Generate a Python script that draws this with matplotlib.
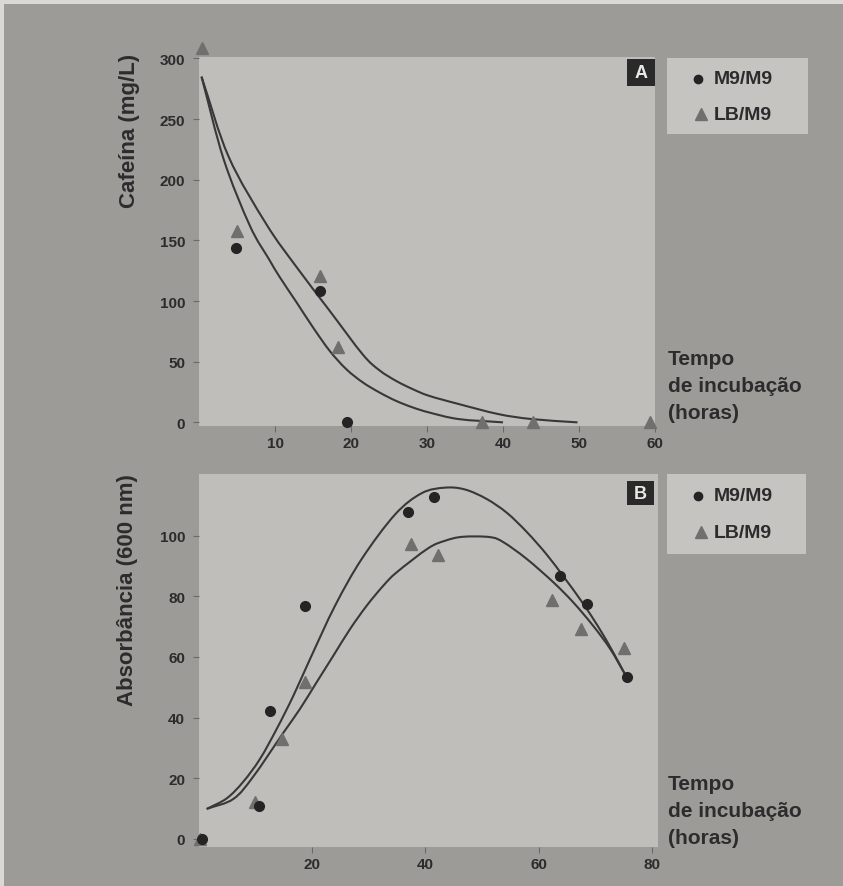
import numpy as np
import matplotlib
matplotlib.use("Agg")
import matplotlib.pyplot as plt
from matplotlib.path import Path
from matplotlib.patches import PathPatch, Rectangle
from matplotlib.lines import Line2D

W, H = 843, 887

# ---------------- Panel A: caffeine in the medium (mg/L) ----------------
caf_m9_t = [4.9, 15.9, 19.5]
caf_m9_v = [144, 108.5, 0]
caf_lb_t = [0.4, 5.0, 15.9, 18.3, 37.3, 43.9, 59.4]
caf_lb_v = [309, 158, 121, 62, 0, 0, 0]

# fitted decay curves (knots along each curve)
caf_fit_m9_t = [0.33, 3.24, 6.7, 9.2, 10.65, 12.84, 15.0, 17.19, 19.37, 21.54,
                23.73, 25.9, 28.08, 30.26, 34.18, 40.0]
caf_fit_m9_v = [285, 217, 162, 134.6, 119.5, 98.9, 78.3, 59.0, 43.9, 33.0,
                24.7, 17.8, 12.4, 8.2, 2.7, 0]
caf_fit_lb_t = [0.33, 3.9, 8.9, 12.84, 17.19, 21.54, 23.73, 25.9, 28.08, 30.26,
                34.18, 39.4, 43.8, 49.8]
caf_fit_lb_v = [285, 219, 163, 128, 92, 56, 43, 34.3, 27.5, 21.9,
                15.1, 6.8, 2.7, 0]

caf_xticks = [10, 20, 30, 40, 50, 60]
caf_yticks = [0, 50, 100, 150, 200, 250, 300]

# ---------------- Panel B: absorbance at 600 nm ----------------
abs_m9_t = [0.7, 10.7, 12.6, 18.8, 37.0, 41.6, 63.8, 68.5, 75.6]
abs_m9_v = [0, 10.8, 42.3, 76.9, 107.9, 112.6, 86.8, 77.5, 53.3]
abs_lb_t = [0.3, 10.0, 14.7, 18.8, 37.5, 42.3, 62.4, 67.5, 75.1]
abs_lb_v = [0, 12.1, 33, 51.8, 97.2, 93.6, 78.9, 69.2, 62.9]

abs_fit_m9_t = [1.46, 4.99, 7.92, 10.86, 13.81, 16.74, 19.68, 24.1, 28.8,
                34.7, 39.4, 43.5, 47.0, 50.8, 54.4, 57.9, 61.4, 64.5, 67.5,
                70.5, 73.0, 75.2]
abs_fit_m9_v = [9.9, 13.4, 18.9, 26.4, 36.3, 47.2, 59.3, 76.9, 92.3,
                107.0, 114.0, 115.8, 115.2, 112.1, 107.5, 101.2, 93.8, 86.2, 78.5,
                70.0, 62.0, 54.4]
abs_fit_lb_t = [1.46, 6.16, 9.68, 14.97, 17.92, 20.86, 23.79, 26.74, 29.68, 32.61,
                34.97, 40.5, 43.5, 46.6, 51.4, 53.8, 57.9, 62.6, 66.1, 69.6,
                72.6, 75.2]
abs_fit_lb_v = [9.9, 13.2, 20.6, 35.0, 42.9, 51.7, 60.4, 69.2, 76.9, 83.5,
                87.9, 95.8, 98.3, 99.6, 99.5, 97.8, 92.3, 84.6, 78.0, 70.3,
                62.7, 54.4]

abs_xticks = [20, 40, 60, 80]
abs_yticks = [0, 20, 40, 60, 80, 100]

series_labels = ["M9/M9", "LB/M9"]
axis_x_label = ["Tempo", "de incubação", "(horas)"]

# ---------------- styling ----------------
OUTER = "#9c9b98"
PANEL = "#bfbebb"
LEGBOX = "#c5c4c1"
EDGE = "#dad9d5"
TXT = "#2c2c2c"
LINE = "#383838"
DOT = "#242424"
TRI = "#6f6f6d"

plt.rcParams["font.family"] = ["Liberation Sans", "DejaVu Sans"]
plt.rcParams["font.weight"] = "bold"


def fx(px):
    return px / W


def fy(py):
    return 1 - py / H


def smooth_path(xs, ys):
    """Catmull-Rom curve through the knots, as cubic Bezier segments."""
    p = np.column_stack([xs, ys]).astype(float)
    ext = np.vstack([p[0] - (p[1] - p[0]), p, p[-1] + (p[-1] - p[-2])])
    verts = [p[0]]
    codes = [Path.MOVETO]
    for i in range(1, len(ext) - 2):
        p0, p1, p2, p3 = ext[i - 1], ext[i], ext[i + 1], ext[i + 2]
        verts += [p1 + (p2 - p0) / 6, p2 - (p3 - p1) / 6, p2]
        codes += [Path.CURVE4] * 3
    return Path(verts, codes)


def style_axes(ax, xticks, yticks):
    ax.set_facecolor(PANEL)
    for s in ax.spines.values():
        s.set_visible(False)
    ax.set_xticks(xticks)
    ax.set_yticks(yticks)
    ax.tick_params(axis="both", colors="#6a6a68", labelcolor=TXT,
                   labelsize=11, length=4, width=0.8)
    ax.tick_params(axis="y", pad=6)
    ax.tick_params(axis="x", pad=3)
    for lab in ax.get_xticklabels() + ax.get_yticklabels():
        lab.set_fontweight("bold")


fig = plt.figure(figsize=(W / 100, H / 100), dpi=100)
fig.patch.set_facecolor(OUTER)

# light paper edges of the scan
fig.add_artist(Rectangle((0, fy(5)), 1, 5 / H, transform=fig.transFigure,
                         color=EDGE, lw=0, zorder=0))
fig.add_artist(Rectangle((0, 0), fx(4), 1, transform=fig.transFigure,
                         color=EDGE, lw=0, zorder=0))

# ---- panel A ----
axA = fig.add_axes([fx(199), fy(427), 456 / W, 369 / H])
axA.set_xlim(0, 59.6)
axA.set_ylim(-3, 301.2)
style_axes(axA, caf_xticks, caf_yticks)
for t, v in ((caf_fit_m9_t, caf_fit_m9_v), (caf_fit_lb_t, caf_fit_lb_v)):
    axA.add_patch(PathPatch(smooth_path(t, v), fill=False, ec=LINE, lw=1.5,
                            zorder=3))
axA.plot(caf_lb_t, caf_lb_v, ls="none", marker="^", ms=8.5, color=TRI,
         clip_on=False, zorder=4)
axA.plot(caf_m9_t, caf_m9_v, ls="none", marker="o", ms=7, color=DOT,
         clip_on=False, zorder=5)

# ---- panel B ----
axB = fig.add_axes([fx(199), fy(848), 459 / W, 373 / H])
axB.set_xlim(0.1, 81.05)
axB.set_ylim(-2.64, 120.3)
style_axes(axB, abs_xticks, abs_yticks)
for t, v in ((abs_fit_m9_t, abs_fit_m9_v), (abs_fit_lb_t, abs_fit_lb_v)):
    axB.add_patch(PathPatch(smooth_path(t, v), fill=False, ec=LINE, lw=1.5,
                            zorder=3))
axB.plot(abs_lb_t, abs_lb_v, ls="none", marker="^", ms=8.5, color=TRI,
         clip_on=False, zorder=4)
axB.plot(abs_m9_t, abs_m9_v, ls="none", marker="o", ms=7, color=DOT,
         clip_on=False, zorder=5)

# y-axis titles
fig.text(fx(130), fy(131), "Cafeína (mg/L)", rotation=90, ha="center",
         va="center", fontsize=16, fontweight="bold", color=TXT)
fig.text(fx(128), fy(590), "Absorbância (600 nm)", rotation=90, ha="center",
         va="center", fontsize=16, fontweight="bold", color=TXT)

# panel tags and legends
for tag, (bx0, by0, bx1, by1), (lx0, ly0, lx1, ly1), rows in (
        ("A", (627, 60, 655, 87), (667, 59, 808, 135), (80, 115)),
        ("B", (627, 482, 654, 506), (667, 475, 806, 555), (497, 533))):
    fig.add_artist(Rectangle((fx(bx0), fy(by1)), (bx1 - bx0) / W,
                             (by1 - by0) / H, transform=fig.transFigure,
                             color="#2a2a2a", lw=0, zorder=6))
    fig.text(fx((bx0 + bx1) / 2), fy((by0 + by1) / 2 + 0.5), tag,
             ha="center", va="center", fontsize=13, fontweight="bold",
             color="#e8e8e6", zorder=7)
    fig.add_artist(Rectangle((fx(lx0), fy(ly1)), (lx1 - lx0) / W,
                             (ly1 - ly0) / H, transform=fig.transFigure,
                             color=LEGBOX, lw=0, zorder=1))
    fig.add_artist(Line2D([fx(698)], [fy(rows[0])], marker="o", ms=6,
                          color=DOT, transform=fig.transFigure, zorder=7))
    fig.add_artist(Line2D([fx(701)], [fy(rows[1])], marker="^", ms=8,
                          color=TRI, transform=fig.transFigure, zorder=7))
    for lab, ry in zip(series_labels, rows):
        fig.text(fx(714), fy(ry), lab, ha="left", va="center", fontsize=14,
                 fontweight="bold", color=TXT)

# x-axis titles beside each panel
for base in (365, 790):
    for k, line in enumerate(axis_x_label):
        fig.text(fx(668), fy(base + 27 * k), line, ha="left",
                 va="baseline", fontsize=15, fontweight="bold", color=TXT)

fig.savefig("out.png", dpi=100, facecolor=fig.get_facecolor())
